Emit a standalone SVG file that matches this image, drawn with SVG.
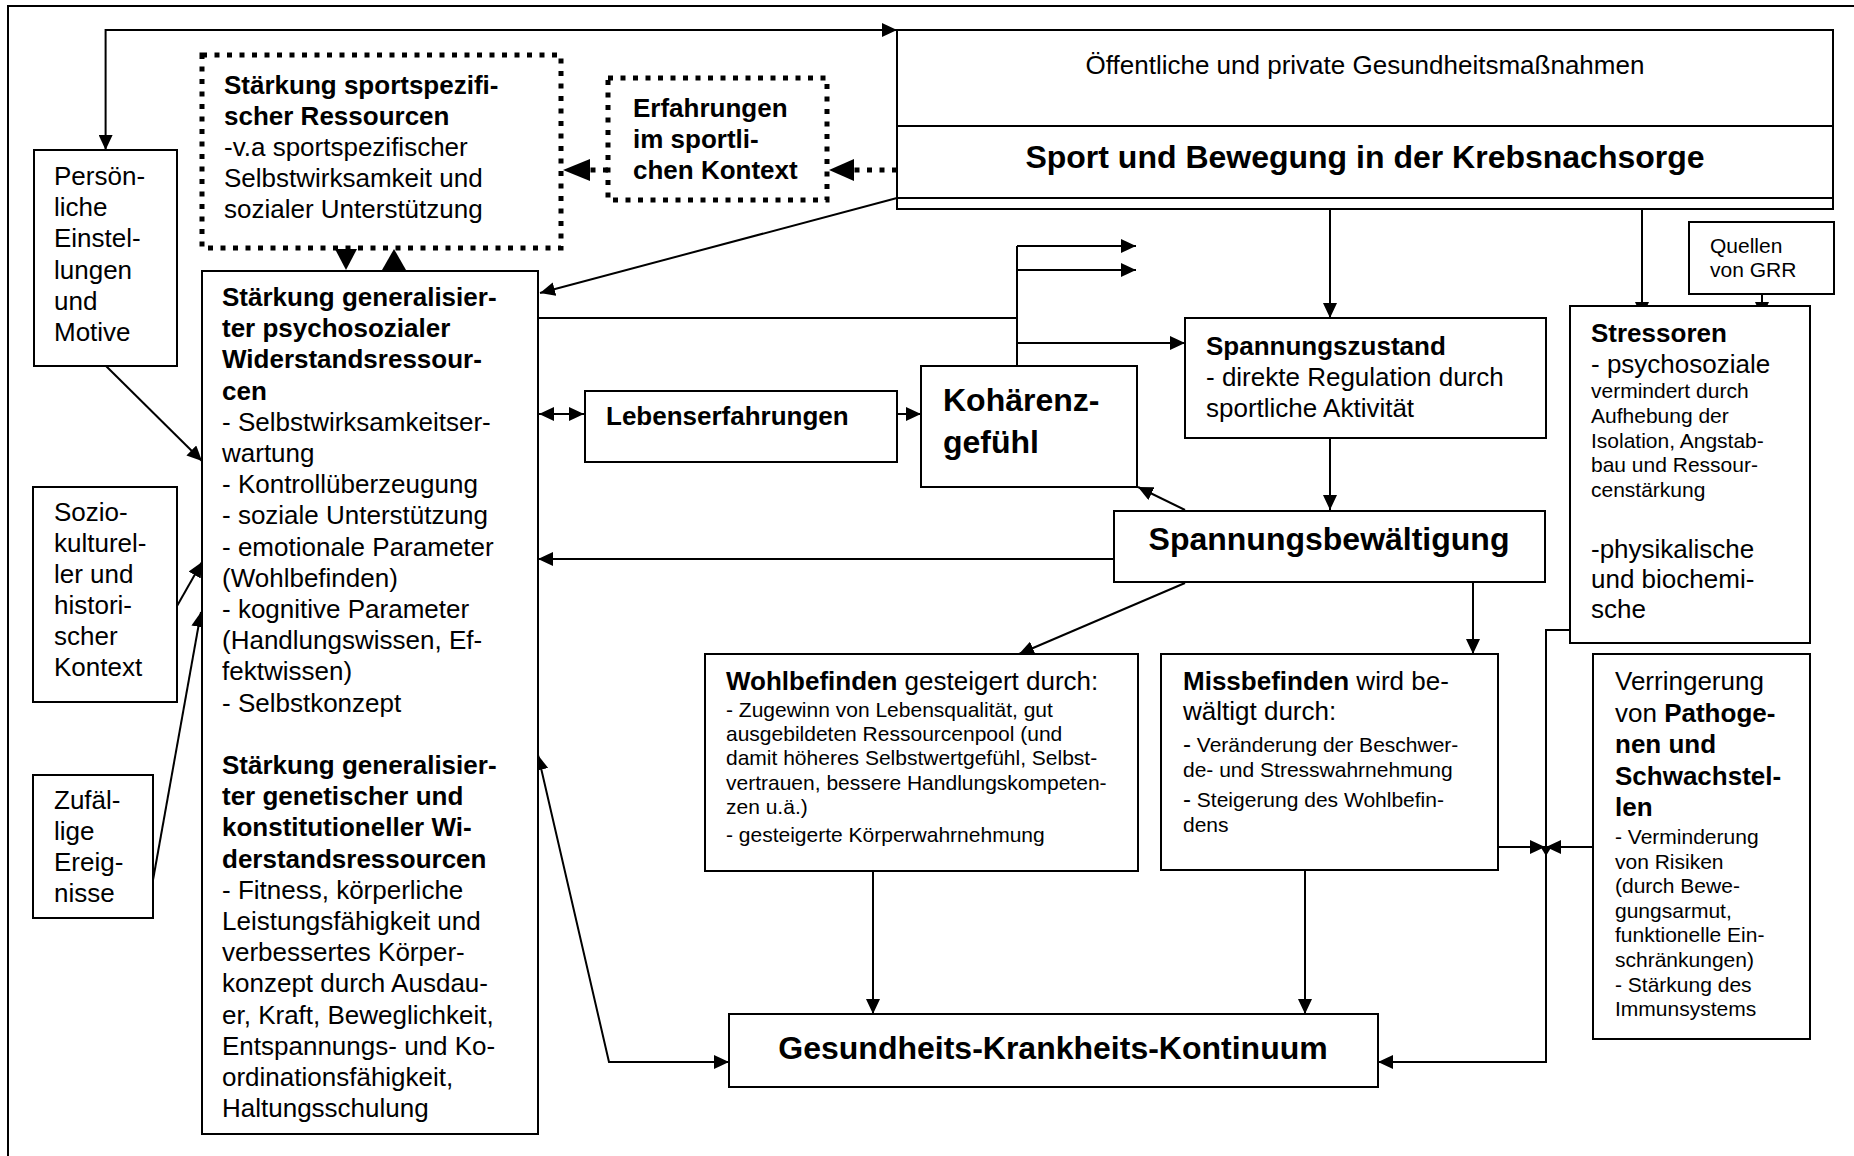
<svg xmlns="http://www.w3.org/2000/svg" width="1854" height="1156" viewBox="0 0 1854 1156">
<style>
.box{fill:#fff;stroke:#000;stroke-width:2}
.dot{fill:#fff;stroke:#000;stroke-width:5;stroke-dasharray:5 7.5}
.t{font-family:"Liberation Sans",Arial,Helvetica,sans-serif;font-size:26px;fill:#000}
.b{font-weight:bold}
.s{font-size:21px}
.l{font-size:32px;font-weight:bold}
.c{stroke:#000;stroke-width:2;fill:none}
.a{marker-end:url(#ah)}
.dl{stroke:#000;stroke-width:5;stroke-dasharray:5 7.5;fill:none}
</style>
<defs>
<marker id="ah" markerUnits="userSpaceOnUse" markerWidth="15" markerHeight="14" refX="15" refY="7" orient="auto-start-reverse" viewBox="0 0 15 14">
<path d="M0,0 L15,7 L0,14 z" fill="#000"/>
</marker>
</defs>
<rect width="1854" height="1156" fill="#fff"/>
<path d="M8,1160 V6 H1860" fill="none" stroke="#000" stroke-width="2"/>

<g id="connectors">
<path class="c" d="M105.6,150 V30 H897" marker-start="url(#ah)" marker-end="url(#ah)"/>
<path class="dl" d="M897,170 H854"/>
<polygon points="829,170 854,159 854,181" fill="#000"/>
<path class="dl" d="M608,170 H590"/>
<polygon points="563,170 590,159 590,181" fill="#000"/>
<polygon points="335,249 357,249 346,270" fill="#000"/>
<polygon points="382,270 406,270 394,249" fill="#000"/>
<path class="c a" d="M897,198 L540,293"/>
<path class="c" d="M538,318 H1017 M1017,366 V246"/>
<path class="c a" d="M1017,246 H1136"/>
<path class="c a" d="M1017,270 H1136"/>
<path class="c a" d="M1017,343 H1185"/>
<path class="c" d="M539,414 H584" marker-start="url(#ah)" marker-end="url(#ah)"/>
<path class="c a" d="M897,414 H921"/>
<path class="c a" d="M1185,510 L1138,487"/>
<path class="c a" d="M1114,559 H538"/>
<path class="c a" d="M1330,198 V318"/>
<path class="c a" d="M1330,438 V510"/>
<path class="c a" d="M1642,198 V317"/>
<path class="c a" d="M1762,294 V317"/>
<path class="c a" d="M1473,582 V654"/>
<path class="c a" d="M1185,583 L1019,654"/>
<path class="c a" d="M873,871 V1014"/>
<path class="c a" d="M1305,871 V1014"/>
<path class="c a" d="M1570,630 H1546 V1062 H1378"/>
<path class="c a" d="M1498,847 H1545"/>
<path class="c a" d="M1593,847 H1546"/>
<polygon points="1540,846 1552,846 1546,856" fill="#000"/>
<path class="c" d="M538,755 L609,1062 H729" marker-start="url(#ah)" marker-end="url(#ah)"/>
<path class="c a" d="M106,366 L202,461"/>
<path class="c a" d="M177,606 L202,562"/>
<path class="c a" d="M153,880 L201,612"/>
</g>

<g id="n-sport">
<rect class="box" x="897" y="30" width="936" height="179"/>
<path class="c" d="M897,126 H1833 M897,198 H1833"/>
<text class="t" x="1365" y="74" text-anchor="middle">Öffentliche und private Gesundheitsmaßnahmen</text>
<text class="t l" x="1365" y="168" text-anchor="middle">Sport und Bewegung in der Krebsnachsorge</text>
</g>

<g id="n-persoenlich">
<rect class="box" x="34" y="150" width="143" height="216"/>
<text class="t" x="54" y="185"><tspan x="54">Persön-</tspan><tspan x="54" dy="31.2">liche</tspan><tspan x="54" dy="31.2">Einstel-</tspan><tspan x="54" dy="31.2">lungen</tspan><tspan x="54" dy="31.2">und</tspan><tspan x="54" dy="31.2">Motive</tspan></text>
</g>

<g id="n-sozio">
<rect class="box" x="33" y="487" width="144" height="215"/>
<text class="t" x="54" y="520.5"><tspan x="54">Sozio-</tspan><tspan x="54" dy="31.1">kulturel-</tspan><tspan x="54" dy="31.1">ler und</tspan><tspan x="54" dy="31.1">histori-</tspan><tspan x="54" dy="31.1">scher</tspan><tspan x="54" dy="31.1">Kontext</tspan></text>
</g>

<g id="n-zufall">
<rect class="box" x="33" y="775" width="120" height="143"/>
<text class="t" x="54" y="809"><tspan x="54">Zufäl-</tspan><tspan x="54" dy="31">lige</tspan><tspan x="54" dy="31">Ereig-</tspan><tspan x="54" dy="31">nisse</tspan></text>
</g>

<g id="n-sportspez">
<rect class="dot" x="202" y="55" width="359" height="193"/>
<text class="t" x="224" y="93.5"><tspan x="224" class="b">Stärkung sportspezifi-</tspan><tspan x="224" dy="31.2" class="b">scher Ressourcen</tspan><tspan x="224" dy="31.2">-v.a sportspezifischer</tspan><tspan x="224" dy="31.2">Selbstwirksamkeit und</tspan><tspan x="224" dy="31.2">sozialer Unterstützung</tspan></text>
</g>

<g id="n-erfahrungen">
<rect class="dot" x="608" y="78" width="219" height="122"/>
<text class="t b" x="633" y="117"><tspan x="633">Erfahrungen</tspan><tspan x="633" dy="31.2">im sportli-</tspan><tspan x="633" dy="31.2">chen Kontext</tspan></text>
</g>

<g id="n-generalisiert">
<rect class="box" x="202" y="271" width="336" height="863"/>
<text class="t" x="222" y="306">
<tspan x="222" class="b">Stärkung generalisier-</tspan>
<tspan x="222" dy="31.2" class="b">ter psychosozialer</tspan>
<tspan x="222" dy="31.2" class="b">Widerstandsressour-</tspan>
<tspan x="222" dy="31.2" class="b">cen</tspan>
<tspan x="222" dy="31.2">- Selbstwirksamkeitser-</tspan>
<tspan x="222" dy="31.2">wartung</tspan>
<tspan x="222" dy="31.2">- Kontrollüberzeugung</tspan>
<tspan x="222" dy="31.2">- soziale Unterstützung</tspan>
<tspan x="222" dy="31.2">- emotionale Parameter</tspan>
<tspan x="222" dy="31.2">(Wohlbefinden)</tspan>
<tspan x="222" dy="31.2">- kognitive Parameter</tspan>
<tspan x="222" dy="31.2">(Handlungswissen, Ef-</tspan>
<tspan x="222" dy="31.2">fektwissen)</tspan>
<tspan x="222" dy="31.2">- Selbstkonzept</tspan>
<tspan x="222" dy="62.4" class="b">Stärkung generalisier-</tspan>
<tspan x="222" dy="31.2" class="b">ter genetischer und</tspan>
<tspan x="222" dy="31.2" class="b">konstitutioneller Wi-</tspan>
<tspan x="222" dy="31.2" class="b">derstandsressourcen</tspan>
<tspan x="222" dy="31.2">- Fitness, körperliche</tspan>
<tspan x="222" dy="31.2">Leistungsfähigkeit und</tspan>
<tspan x="222" dy="31.2">verbessertes Körper-</tspan>
<tspan x="222" dy="31.2">konzept durch Ausdau-</tspan>
<tspan x="222" dy="31.2">er, Kraft, Beweglichkeit,</tspan>
<tspan x="222" dy="31.2">Entspannungs- und Ko-</tspan>
<tspan x="222" dy="31.2">ordinationsfähigkeit,</tspan>
<tspan x="222" dy="31.2">Haltungsschulung</tspan>
</text>
</g>

<g id="n-lebenserfahrungen">
<rect class="box" x="585" y="391" width="312" height="71"/>
<text class="t b" x="606" y="425">Lebenserfahrungen</text>
</g>

<g id="n-kohaerenz">
<rect class="box" x="921" y="366" width="216" height="121"/>
<text class="t l" x="943" y="411"><tspan x="943">Kohärenz-</tspan><tspan x="943" dy="42">gefühl</tspan></text>
</g>

<g id="n-spannungszustand">
<rect class="box" x="1185" y="318" width="361" height="120"/>
<text class="t" x="1206" y="355"><tspan x="1206" class="b">Spannungszustand</tspan><tspan x="1206" dy="31.2">- direkte Regulation durch</tspan><tspan x="1206" dy="31.2">sportliche Aktivität</tspan></text>
</g>

<g id="n-spannungsbew">
<rect class="box" x="1114" y="511" width="431" height="71"/>
<text class="t l" x="1329" y="550" text-anchor="middle">Spannungsbewältigung</text>
</g>

<g id="n-quellen">
<rect class="box" x="1689" y="222" width="145" height="72"/>
<text class="t s" x="1710" y="252.7"><tspan x="1710">Quellen</tspan><tspan x="1710" dy="24">von GRR</tspan></text>
</g>

<g id="n-stressoren">
<rect class="box" x="1570" y="306" width="240" height="337"/>
<text class="t" x="1591" y="341.7"><tspan x="1591" class="b">Stressoren</tspan><tspan x="1591" dy="31.6">- psychosoziale</tspan></text>
<text class="t s" x="1591" y="398.3"><tspan x="1591">vermindert durch</tspan><tspan x="1591" dy="24.6">Aufhebung der</tspan><tspan x="1591" dy="24.6">Isolation, Angstab-</tspan><tspan x="1591" dy="24.6">bau und Ressour-</tspan><tspan x="1591" dy="24.6">censtärkung</tspan></text>
<text class="t" x="1591" y="558.3"><tspan x="1591">-physikalische</tspan><tspan x="1591" dy="30">und biochemi-</tspan><tspan x="1591" dy="30">sche</tspan></text>
</g>

<g id="n-wohlbefinden">
<rect class="box" x="705" y="654" width="433" height="217"/>
<text class="t" x="726" y="690"><tspan class="b">Wohlbefinden</tspan> gesteigert durch:</text>
<text class="t s" x="726" y="716.7"><tspan x="726">- Zugewinn von Lebensqualität, gut</tspan><tspan x="726" dy="24.3">ausgebildeten Ressourcenpool (und</tspan><tspan x="726" dy="24.3">damit höheres Selbstwertgefühl, Selbst-</tspan><tspan x="726" dy="24.3">vertrauen, bessere Handlungskompeten-</tspan><tspan x="726" dy="24.6">zen u.ä.)</tspan><tspan x="726" dy="27.4">- gesteigerte Körperwahrnehmung</tspan></text>
</g>

<g id="n-missbefinden">
<rect class="box" x="1161" y="654" width="337" height="216"/>
<text class="t" x="1183" y="690"><tspan x="1183"><tspan class="b">Missbefinden</tspan> wird be-</tspan><tspan x="1183" dy="30">wältigt durch:</tspan></text>
<text class="t s" x="1183" y="751.7"><tspan x="1183"><tspan font-size="24">-</tspan> Veränderung der Beschwer-</tspan><tspan x="1183" dy="25">de- und Stresswahrnehmung</tspan><tspan x="1183" dy="30"><tspan font-size="24">-</tspan> Steigerung des Wohlbefin-</tspan><tspan x="1183" dy="25">dens</tspan></text>
</g>

<g id="n-verringerung">
<rect class="box" x="1593" y="654" width="217" height="385"/>
<text class="t" x="1615" y="690"><tspan x="1615">Verringerung</tspan><tspan x="1615" dy="31.5">von <tspan class="b">Pathoge-</tspan></tspan><tspan x="1615" dy="31.5" class="b">nen und</tspan><tspan x="1615" dy="31.5" class="b">Schwachstel-</tspan><tspan x="1615" dy="31.5" class="b">len</tspan></text>
<text class="t s" x="1615" y="844"><tspan x="1615">- Verminderung</tspan><tspan x="1615" dy="24.6">von Risiken</tspan><tspan x="1615" dy="24.6">(durch Bewe-</tspan><tspan x="1615" dy="24.6">gungsarmut,</tspan><tspan x="1615" dy="24.6">funktionelle Ein-</tspan><tspan x="1615" dy="24.6">schränkungen)</tspan><tspan x="1615" dy="24.6">- Stärkung des</tspan><tspan x="1615" dy="24.6">Immunsystems</tspan></text>
</g>

<g id="n-kontinuum">
<rect class="box" x="729" y="1014" width="649" height="73"/>
<text class="t l" x="1053" y="1059" text-anchor="middle">Gesundheits-Krankheits-Kontinuum</text>
</g>
</svg>
